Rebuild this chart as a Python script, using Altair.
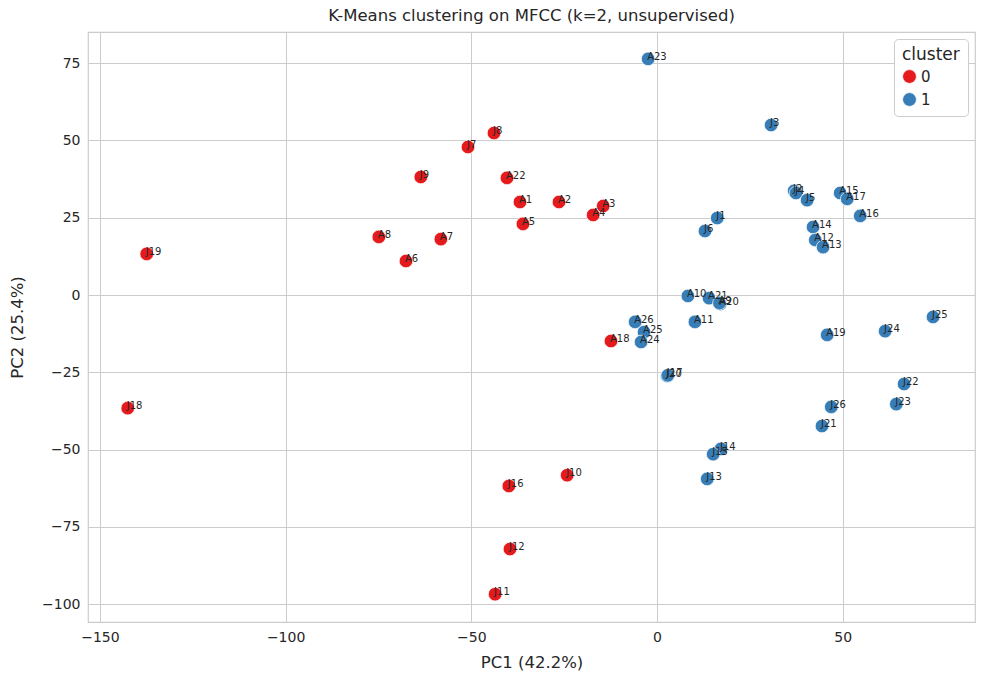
import altair as alt
import pandas as pd

labels = ["A23", "J3", "J2", "J4", "J5", "A15", "A17", "A16", "A14", "A12", "A13",
          "J1", "J6", "A10", "A21", "A20", "A9", "A11", "A26", "A25", "A24", "J20", "J17",
          "A19", "J24", "J25", "J22", "J23", "J26", "J21", "J14", "J15", "J13",
          "J8", "J7", "J9", "A22", "A1", "A2", "A3", "A4", "A5", "A8", "A7", "A6",
          "J19", "J18", "A18", "J10", "J16", "J12", "J11"]
pc1 = [-2.4, 30.7, 36.9, 37.4, 40.4, 49.3, 51.2, 54.7, 42.0, 42.6, 44.7,
       16.2, 12.9, 8.3, 14.0, 17.0, 16.8, 10.2, -5.9, -3.5, -4.3, 2.7, 2.9,
       45.8, 61.4, 74.3, 66.5, 64.4, 46.9, 44.4, 17.2, 15.1, 13.5,
       -43.9, -50.9, -63.6, -40.4, -36.9, -26.4, -14.5, -17.2, -36.1, -74.9, -58.2, -67.6,
       -137.4, -142.5, -12.4, -24.2, -39.9, -39.6, -43.6]
pc2 = [76.4, 55.0, 33.7, 33.0, 30.7, 33.0, 31.1, 25.6, 22.0, 17.8, 15.5,
       24.9, 20.7, -0.3, -1.0, -2.9, -2.6, -8.7, -8.7, -12.0, -15.2, -26.2, -26.0,
       -12.9, -11.7, -7.1, -28.8, -35.3, -36.2, -42.4, -49.8, -51.5, -59.5,
       52.4, 47.9, 38.2, 37.9, 30.1, 30.1, 28.8, 25.9, 23.0, 18.8, 18.1, 11.0,
       13.3, -36.6, -14.9, -58.3, -61.8, -82.2, -96.8]
cluster = ["1"] * 33 + ["0"] * 12 + ["0"] * 7

df = pd.DataFrame({"label": labels, "PC1": pc1, "PC2": pc2, "cluster": cluster})

FONT = "DejaVu Sans"
xs = alt.Scale(domain=[-153.2, 85.6], nice=False, zero=False)
ys = alt.Scale(domain=[-105.8, 85.1], nice=False, zero=False)

base = alt.Chart(df)

points = base.mark_circle(size=185, opacity=1, stroke="white", strokeWidth=0.7).encode(
    x=alt.X("PC1:Q", scale=xs, title="PC1 (42.2%)",
            axis=alt.Axis(values=[-150, -100, -50, 0, 50])),
    y=alt.Y("PC2:Q", scale=ys, title="PC2 (25.4%)",
            axis=alt.Axis(values=[-100, -75, -50, -25, 0, 25, 50, 75], titlePadding=16)),
    color=alt.Color("cluster:N", title="cluster",
                    scale=alt.Scale(domain=["0", "1"], range=["#e41a1c", "#377eb8"]),
                    legend=alt.Legend(orient="top-right", offset=7, symbolType="circle",
                                      symbolSize=190, fillColor="white",
                                      strokeColor="#cccccc", cornerRadius=4, padding=8,
                                      titleFontSize=17, labelFontSize=15,
                                      titleFontWeight="normal", titleFont=FONT,
                                      labelFont=FONT, titleColor="#262626",
                                      labelColor="#262626", rowPadding=6,
                                      symbolStrokeColor="white", symbolStrokeWidth=0.7)),
)

text = base.mark_text(align="left", baseline="middle", dx=-1, dy=-2, fontSize=10,
                      font=FONT, color="#262626").encode(
    x=alt.X("PC1:Q", scale=xs),
    y=alt.Y("PC2:Q", scale=ys),
    text="label:N",
)

chart = (points + text).properties(
    width=887, height=590,
    title=alt.TitleParams("K-Means clustering on MFCC (k=2, unsupervised)",
                          fontSize=16.5, font=FONT, fontWeight="normal",
                          color="#262626", offset=8),
    autosize=alt.AutoSizeParams(type="none"),
    padding={"left": 88, "top": 32, "right": 9, "bottom": 62},
).configure_view(stroke="#cccccc", strokeWidth=1.2).configure_axis(
    grid=True, gridColor="#cccccc", gridWidth=1, domain=False, ticks=False,
    labelFont=FONT, titleFont=FONT, labelFontSize=14, titleFontSize=16.5,
    labelColor="#262626", titleColor="#262626", titleFontWeight="normal",
    labelPadding=8, titlePadding=10,
)

chart.save("out.html", embed_options={"renderer": "svg", "actions": False})
